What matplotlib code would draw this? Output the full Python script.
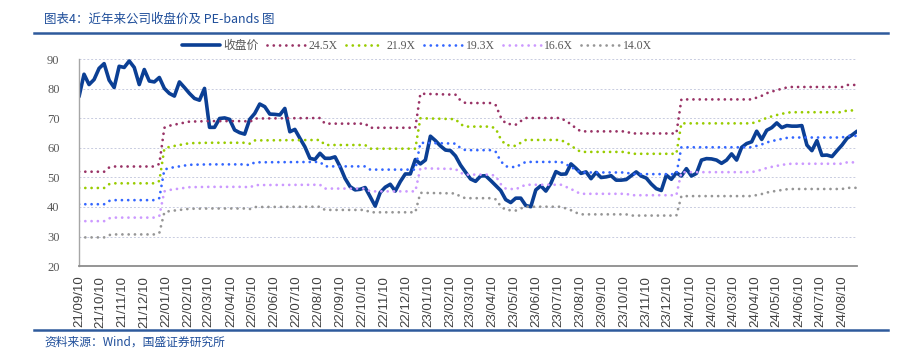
import matplotlib
matplotlib.use("Agg")
import matplotlib.pyplot as plt
from matplotlib.lines import Line2D
import numpy as np
import pandas as pd

# weekly closing price, starting 2021-09-10
price = [
    77.4, 85.0, 81.5, 83.2, 87.0, 88.6, 83.0, 80.5, 87.7, 87.3,
    89.5, 87.3, 81.5, 86.6, 82.7, 82.4, 83.9, 80.2, 78.5, 77.6,
    82.4, 80.5, 78.5, 76.8, 76.2, 80.2, 67.0, 67.0, 70.0, 70.2,
    69.7, 66.1, 65.2, 64.7, 69.7, 71.7, 74.9, 74.0, 71.5,
    71.4, 71.2, 73.4, 65.5, 66.3, 63.3, 60.4, 56.5, 56.1, 58.2,
    56.5, 56.5, 57.0, 53.7, 49.7, 46.9, 45.8, 46.0, 46.6, 43.5,
    40.3, 44.9, 46.7, 47.7, 45.4, 48.6, 51.2, 51.2, 56.1, 54.6,
    55.9, 64.0, 62.5, 60.7, 59.3, 59.1, 57.3, 54.2, 51.8,
    49.5, 48.7, 50.5, 50.6, 49.0, 47.3, 45.6, 42.5, 41.5, 43.0,
    43.0, 40.5, 40.1, 45.8, 47.2, 45.4, 48.0, 52.0, 51.1, 51.2,
    54.6, 53.1, 51.4, 51.9, 49.6, 51.7, 50.0, 50.2, 50.6, 49.1,
    49.1, 49.3, 50.6, 51.9, 50.5, 49.8, 47.8, 46.2,
    45.6, 50.8, 49.4, 51.6, 50.5, 53.0, 50.5, 51.4, 55.9, 56.4,
    56.3, 55.9, 54.8, 55.9, 58.0, 55.9, 60.2, 61.5, 62.1, 65.7,
    62.9, 66.0, 66.9, 68.5, 66.9, 67.6, 67.4, 67.4, 67.6, 61.0,
    59.1, 62.5, 57.5, 57.6, 57.1, 59.1, 61.0, 63.3, 64.4, 65.7,
]

# EPS used for the bands, at the weeks where it changes
band_week = [0, 5, 6, 7, 15, 16, 17, 18, 20, 22, 26, 33, 34, 35, 48, 49, 57, 58,
             67, 68, 75, 76, 77, 82, 83, 84, 85, 87, 88, 89, 96, 97, 98, 99, 100,
             109, 110, 119, 120, 134, 136, 137, 138, 139, 141, 142, 152, 153, 155]
eps = [2.121, 2.121, 2.179, 2.193, 2.193, 2.229, 2.729, 2.757, 2.786, 2.814,
       2.821, 2.821, 2.807, 2.857, 2.864, 2.786, 2.786, 2.729,
       2.729, 3.200, 3.186, 3.107, 3.071, 3.071, 3.043, 2.879, 2.786, 2.771,
       2.821, 2.864, 2.864, 2.821, 2.779, 2.721, 2.679,
       2.679, 2.650, 2.650, 3.121, 3.121, 3.171, 3.207, 3.229, 3.250, 3.286,
       3.293, 3.293, 3.321, 3.321]

multiples = [24.5, 21.9, 19.3, 16.6, 14.0]
band_labels = ["24.5X", "21.9X", "19.3X", "16.6X", "14.0X"]
band_colors = ["#993366", "#99CC00", "#3366FF", "#CC99FF", "#969696"]

dates = pd.date_range("2021-09-10", periods=len(price), freq="7D")
band_dates = dates[band_week]
tick_dates = pd.date_range("2021-09-10", "2024-08-10", freq=pd.DateOffset(months=1))

fig = plt.figure(figsize=(9.02, 3.56), dpi=100)
ax = fig.add_axes([0.0876, 0.2528, 0.8626, 0.5801])

ax.plot(dates, price, color="#0B3F94", lw=2.6, label="收盘价",
        solid_joinstyle="round", solid_capstyle="round")
for m, lab, col in zip(multiples, band_labels, band_colors):
    ax.plot(band_dates, np.array(eps) * m, color=col, lw=2.0,
            linestyle=(0, (0.01, 2.25)), dash_capstyle="round", label=lab)

ax.set_xlim(dates[0], dates[-1])
ax.set_ylim(20, 90)
ax.set_yticks(range(20, 91, 10))
ax.set_xticks(tick_dates)
ax.set_xticklabels([d.strftime("%y/%m/%d") for d in tick_dates], rotation=90,
                   family="Liberation Sans", fontsize=9.5, color="#404040")
for t in ax.get_yticklabels():
    t.set_family("Liberation Serif")
    t.set_fontsize(9)
    t.set_color("#595959")
ax.tick_params(axis="both", length=0)
ax.tick_params(axis="y", pad=14)
ax.tick_params(axis="x", pad=7)

ax.yaxis.grid(True, color="#c8cce0", lw=0.7, linestyle=(0, (2, 2)))
ax.set_axisbelow(True)
for side in ["top", "right"]:
    ax.spines[side].set_visible(False)
ax.spines["left"].set_color("#a6a6a6")
ax.spines["left"].set_linewidth(1.0)
ax.spines["bottom"].set_color("#8c8c8c")
ax.spines["bottom"].set_linewidth(1.3)

leg = fig.legend(loc="center", bbox_to_anchor=(417 / 902, 1 - 46 / 356), ncol=6,
                 frameon=False, handlelength=3.2, columnspacing=0.7, handletextpad=0.3,
                 prop={"family": ["Liberation Serif", "Noto Sans CJK SC"], "size": 8.5})
for t in leg.get_texts():
    t.set_color("#595959")

blue = "#2E5A9C"
fig.add_artist(Line2D([34 / 902, 888 / 902], [1 - 32.5 / 356] * 2, color=blue, lw=1.8))
fig.add_artist(Line2D([34 / 902, 888 / 902], [1 - 330 / 356] * 2, color=blue, lw=1.8))
fig.text(44 / 902, 1 - 19 / 356, "图表4：近年来公司收盘价及 PE-bands 图", color="#1F4E9A",
         fontsize=9, family=["Noto Sans CJK SC", "DejaVu Sans"], va="center")
fig.text(44 / 902, 1 - 342 / 356, "资料来源：Wind，国盛证券研究所", color="#1F4E9A",
         fontsize=8.5, family=["Noto Sans CJK SC", "DejaVu Sans"], va="center")

fig.savefig("out.png", dpi=100)
